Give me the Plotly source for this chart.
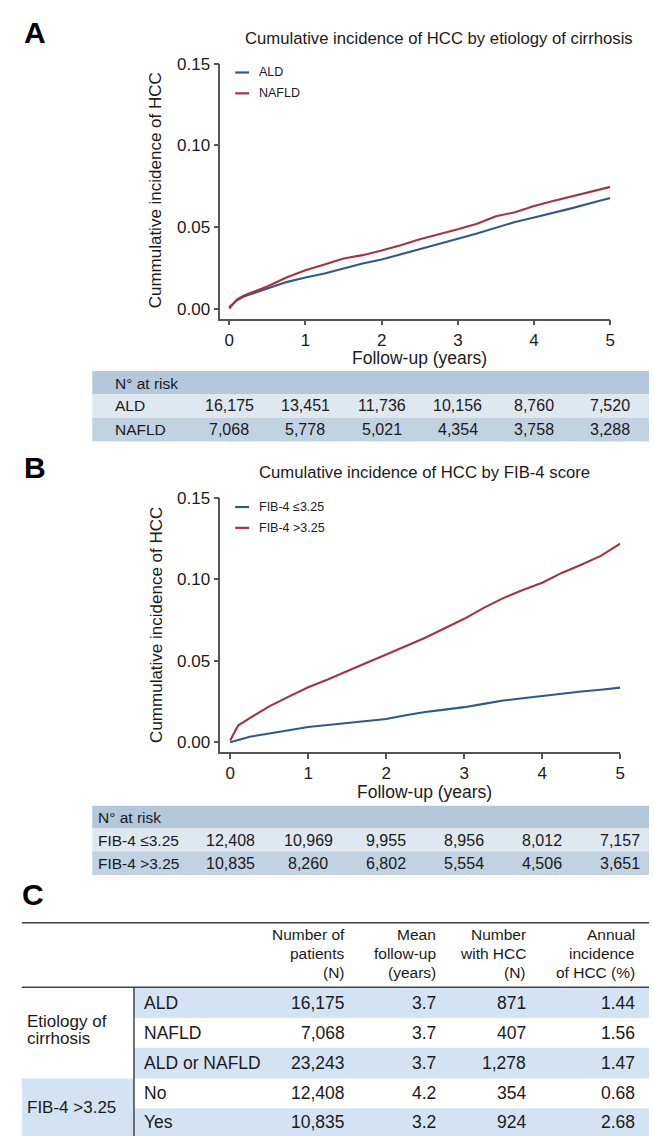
import plotly.graph_objects as go

# ---------------- data ----------------
t_a = [0, 0.1, 0.2, 0.35, 0.5, 0.75, 1.0, 1.25, 1.5, 1.75, 2.0, 2.25, 2.5, 2.75, 3.0,
       3.25, 3.5, 3.75, 4.0, 4.25, 4.5, 4.75, 5.0]
ald_ci = [0.001, 0.005, 0.0075, 0.010, 0.0125, 0.0162, 0.019, 0.0215, 0.0245, 0.0276, 0.030,
          0.0333, 0.0362, 0.0398, 0.0428, 0.046, 0.0495, 0.053, 0.0558, 0.0585, 0.0615, 0.0646, 0.0677]
nafld_ci = [0.0, 0.0055, 0.0082, 0.011, 0.0135, 0.019, 0.0235, 0.027, 0.0307, 0.0327, 0.0355,
            0.0388, 0.0425, 0.0455, 0.0485, 0.052, 0.0565, 0.059, 0.0628, 0.0659, 0.0688, 0.0713, 0.0745]

t_b = [0, 0.1, 0.25, 0.5, 0.75, 1.0, 1.25, 1.5, 1.75, 2.0, 2.25, 2.5, 2.75, 3.0, 3.25, 3.5,
       3.75, 4.0, 4.25, 4.5, 4.75, 5.0]
fib_low_ci = [0.0, 0.0015, 0.0033, 0.0053, 0.0072, 0.0093, 0.0105, 0.0118, 0.013, 0.0142, 0.0165,
              0.0185, 0.020, 0.0215, 0.0235, 0.0256, 0.027, 0.0285, 0.0298, 0.0311, 0.0322, 0.0335]
fib_high_ci = [0.001, 0.0102, 0.0148, 0.022, 0.028, 0.0337, 0.0385, 0.0439, 0.0488, 0.0539, 0.059,
               0.0642, 0.070, 0.0758, 0.0825, 0.0885, 0.0935, 0.098, 0.104, 0.109, 0.1145, 0.122]

risk_times = [0, 1, 2, 3, 4, 5]
risk_ald = [16175, 13451, 11736, 10156, 8760, 7520]
risk_nafld = [7068, 5778, 5021, 4354, 3758, 3288]
risk_fib_low = [12408, 10969, 9955, 8956, 8012, 7157]
risk_fib_high = [10835, 8260, 6802, 5554, 4506, 3651]

y_ticks = [0.0, 0.05, 0.10, 0.15]
x_ticks = [0, 1, 2, 3, 4, 5]

c_headers = [["Number of", "patients", "(N)"],
             ["Mean", "follow-up", "(years)"],
             ["Number", "with HCC", "(N)"],
             ["Annual", "incidence", "of HCC (%)"]]
c_groups = [["Etiology of", "cirrhosis"], ["FIB-4 >3.25"]]
c_rows = ["ALD", "NAFLD", "ALD or NAFLD", "No", "Yes"]
c_patients = [16175, 7068, 23243, 12408, 10835]
c_followup = [3.7, 3.7, 3.7, 4.2, 3.2]
c_hcc = [871, 407, 1278, 354, 924]
c_incidence = [1.44, 1.56, 1.47, 0.68, 2.68]

# ---------------- styling ----------------
W, H = 654, 1136
BLUE = "#2e5a87"
RED = "#a8333f"
AX = "#555555"
TXT = "#1a1a1a"
FONT = "Liberation Sans, Arial, sans-serif"
HDR_BG = "#b3c8db"
ROW_LIGHT = "#dfe7ef"
ROW_MID = "#c1d2e1"
C_BLUE = "#d4e3f3"


def X(px):
    return px / W


def Y(py):
    return 1 - py / H


fig = go.Figure()
fig.add_trace(go.Scatter(x=t_a, y=ald_ci, mode="lines", line=dict(color=BLUE, width=2.1),
                         xaxis="x", yaxis="y", showlegend=False, name="ALD"))
fig.add_trace(go.Scatter(x=t_a, y=nafld_ci, mode="lines", line=dict(color=RED, width=2.1),
                         xaxis="x", yaxis="y", showlegend=False, name="NAFLD"))
fig.add_trace(go.Scatter(x=t_b, y=fib_low_ci, mode="lines", line=dict(color=BLUE, width=2.1),
                         xaxis="x2", yaxis="y2", showlegend=False, name="FIB-4 ≤3.25"))
fig.add_trace(go.Scatter(x=t_b, y=fib_high_ci, mode="lines", line=dict(color=RED, width=2.1),
                         xaxis="x2", yaxis="y2", showlegend=False, name="FIB-4 >3.25"))

axis_common = dict(showline=True, linecolor=AX, linewidth=1.5, ticks="outside", ticklen=5,
                   tickcolor=AX, tickwidth=1.5, showgrid=False, zeroline=False,
                   tickfont=dict(family=FONT, size=17, color=TXT))

fig.update_layout(
    width=W, height=H, margin=dict(l=0, r=0, t=0, b=0),
    paper_bgcolor="white", plot_bgcolor="white", showlegend=False,
    font=dict(family=FONT, color=TXT),
    xaxis=dict(domain=[X(222), X(615)], range=[-0.117, 5], tickvals=x_ticks, anchor="y", **axis_common),
    yaxis=dict(domain=[Y(312), Y(55)], range=[-0.0061, 0.15], tickvals=y_ticks, tickformat=".2f",
               anchor="x", **axis_common),
    xaxis2=dict(domain=[X(222), X(625)], range=[-0.127, 5], tickvals=x_ticks, anchor="y2", **axis_common),
    yaxis2=dict(domain=[Y(749), Y(493)], range=[-0.0061, 0.15], tickvals=y_ticks, tickformat=".2f",
                anchor="x2", **axis_common),
)

ann = []
shapes = []


def text(px, py, s, size=16, xanchor="center", angle=0, bold=False, xref="paper", xval=None):
    ann.append(dict(x=xval if xval is not None else X(px), y=Y(py), xref=xref, yref="paper",
                    text=f"<b>{s}</b>" if bold else s, showarrow=False,
                    xanchor=xanchor, yanchor="middle", textangle=angle,
                    font=dict(family=FONT, size=size, color="black" if bold else TXT)))


def rect(x0, y0, x1, y1, color):
    shapes.append(dict(type="rect", xref="paper", yref="paper", x0=X(x0), x1=X(x1), y0=Y(y1), y1=Y(y0),
                       fillcolor=color, line=dict(width=0), layer="below"))


def hline(x0, x1, py, color=AX, width=1.5):
    shapes.append(dict(type="line", xref="paper", yref="paper", x0=X(x0), x1=X(x1), y0=Y(py), y1=Y(py),
                       line=dict(color=color, width=width)))


def vline(px, y0, y1, color=AX, width=1.5):
    shapes.append(dict(type="line", xref="paper", yref="paper", x0=X(px), x1=X(px), y0=Y(y0), y1=Y(y1),
                       line=dict(color=color, width=width)))


# ---------- Panel A ----------
text(35, 24, "A", size=30, bold=True)
text(640, 30, "Cumulative incidence of HCC by etiology of cirrhosis", size=16.7, xanchor="right")
text(157, 183, "Cummulative incidence of HCC", size=17, angle=-90)
text(423, 352, "Follow-up (years)", size=17.5)
for py, col, lab in [(64, BLUE, "ALD"), (85, RED, "NAFLD")]:
    hline(237, 251, py, color=col, width=2.2)
    text(259, py, lab, size=12.5, xanchor="left")

rect(93, 365, W, 388, HDR_BG)
rect(93, 388, W, 412, ROW_LIGHT)
rect(93, 412, W, 436, ROW_MID)
text(114, 377, "N° at risk", size=15.5, xanchor="left")
text(114, 400, "ALD", size=15.5, xanchor="left")
text(114, 424, "NAFLD", size=15.5, xanchor="left")
for t, a, n in zip(risk_times, risk_ald, risk_nafld):
    text(0, 400, f"{a:,}", size=16, xref="x", xval=t)
    text(0, 424, f"{n:,}", size=16, xref="x", xval=t)

# ---------- Panel B ----------
text(35, 462, "B", size=30, bold=True)
text(428, 467, "Cumulative incidence of HCC by FIB-4 score", size=16.7)
text(157, 621, "Cummulative incidence of HCC", size=17, angle=-90)
text(428, 789, "Follow-up (years)", size=17.5)
for py, col, lab in [(502, BLUE, "FIB-4 ≤3.25"), (523, RED, "FIB-4 >3.25")]:
    hline(237, 251, py, color=col, width=2.2)
    text(259, py, lab, size=12.5, xanchor="left")

rect(93, 803, W, 826, HDR_BG)
rect(93, 826, W, 849, ROW_LIGHT)
rect(93, 849, W, 873, ROW_MID)
text(97, 815, "N° at risk", size=15.5, xanchor="left")
text(97, 838, "FIB-4 ≤3.25", size=15.5, xanchor="left")
text(97, 861, "FIB-4 >3.25", size=15.5, xanchor="left")
for t, a, n in zip(risk_times, risk_fib_low, risk_fib_high):
    text(0, 838, f"{a:,}", size=16, xref="x2", xval=t)
    text(0, 861, f"{n:,}", size=16, xref="x2", xval=t)

# ---------- Panel C ----------
text(33, 893, "C", size=30, bold=True)
hline(22, W, 921, color="#444444", width=1.5)
hline(22, W, 986, color="#444444", width=1.5)
row_edges = [986, 1017, 1047, 1078, 1108, 1136]
for i in range(5):
    if i % 2 == 0:
        rect(135, row_edges[i], W, row_edges[i + 1], C_BLUE)
rect(22, 1078, 135, 1136, C_BLUE)
vline(135, 986, 1136, color="#444444", width=1.5)

col_right = [350, 441, 532, 642]
hdr_y = [933, 952, 971]
for cx, lines in zip(col_right, c_headers):
    for yy, s in zip(hdr_y, lines):
        text(cx, yy, s, size=15.5, xanchor="right")

text(25, 1021, c_groups[0][0], size=17, xanchor="left")
text(25, 1038, c_groups[0][1], size=17, xanchor="left")
text(25, 1107, c_groups[1][0], size=17, xanchor="left")

for i in range(5):
    yc = (row_edges[i] + row_edges[i + 1]) / 2
    text(143, yc, c_rows[i], size=17.5, xanchor="left")
    text(col_right[0], yc, f"{c_patients[i]:,}", size=17.5, xanchor="right")
    text(col_right[1], yc, f"{c_followup[i]:.1f}", size=17.5, xanchor="right")
    text(col_right[2], yc, f"{c_hcc[i]:,}", size=17.5, xanchor="right")
    text(col_right[3], yc, f"{c_incidence[i]:.2f}", size=17.5, xanchor="right")

fig.update_layout(annotations=ann, shapes=shapes)
fig.write_html(
    "out.html",
    config={"displayModeBar": False},
    post_script=(
        "document.documentElement.style.margin='0';document.body.style.margin='0';"
        "document.body.style.padding='0';document.body.style.overflow='hidden';"
        "var d=document.getElementById('{plot_id}');d.style.position='fixed';"
        "d.style.top='0px';d.style.left='0px';"
    ),
)
